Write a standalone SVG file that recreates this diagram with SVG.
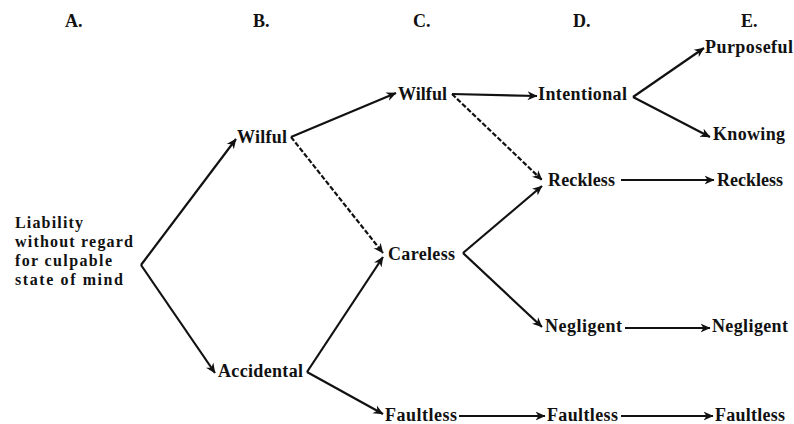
<svg xmlns="http://www.w3.org/2000/svg" width="794" height="424" viewBox="0 0 794 424">
<style>
text{font-family:"Liberation Serif","Times New Roman",serif;font-weight:bold;font-size:18px;fill:#111}
.s{font-size:16px}
.c{fill:none;stroke:#111;stroke-width:2.2;marker-end:url(#ah)}
.d{stroke-dasharray:5 2}
</style>
<defs>
<marker id="ah" viewBox="0 0 10 10" refX="9.5" refY="5" markerWidth="10" markerHeight="10" markerUnits="userSpaceOnUse" orient="auto">
<path d="M0,0.5 L10,5 L0,9.5 L3,5 z" fill="#111"/>
</marker>
</defs>
<g id="headers">
<text x="65" y="27">A.</text>
<text x="253" y="27">B.</text>
<text x="413" y="27">C.</text>
<text x="573" y="27">D.</text>
<text x="741" y="27">E.</text>
</g>
<g id="connectors">
<path class="c" d="M141,265 L236,139"/>
<path class="c" d="M141,265 L215,373"/>
<path class="c" d="M291,137 L396,93"/>
<path class="c d" d="M291,137 L383,253"/>
<path class="c" d="M307,372 L383,257"/>
<path class="c" d="M307,372 L383,414"/>
<path class="c" d="M452,94 L537,96"/>
<path class="c d" d="M452,94 L542,180"/>
<path class="c" d="M463,253 L542,186"/>
<path class="c" d="M463,253 L542,327"/>
<path class="c" d="M633,97 L704,48"/>
<path class="c" d="M633,97 L710,137"/>
<path class="c" d="M621,180 L714,180"/>
<path class="c" d="M625,328 L710,328"/>
<path class="c" d="M459,416 L545,416"/>
<path class="c" d="M621,416 L713,416"/>
</g>
<g id="nA">
<text class="s" x="15" y="228" textLength="68">Liability</text>
<text class="s" x="15" y="247" textLength="118">without regard</text>
<text class="s" x="15" y="266" textLength="97">for culpable</text>
<text class="s" x="15" y="285" textLength="108">state of mind</text>
</g>
<g id="nB-wilful"><text x="237" y="143" textLength="50">Wilful</text></g>
<g id="nB-accidental"><text x="218" y="377" textLength="85">Accidental</text></g>
<g id="nC-wilful"><text x="398" y="100" textLength="49">Wilful</text></g>
<g id="nC-careless"><text x="388" y="260" textLength="67">Careless</text></g>
<g id="nC-faultless"><text x="385" y="421" textLength="72">Faultless</text></g>
<g id="nD-intentional"><text x="538" y="100" textLength="89">Intentional</text></g>
<g id="nD-reckless"><text x="548" y="186" textLength="67">Reckless</text></g>
<g id="nD-negligent"><text x="545" y="332" textLength="77">Negligent</text></g>
<g id="nD-faultless"><text x="547" y="421" textLength="71">Faultless</text></g>
<g id="nE-purposeful"><text x="705" y="53" textLength="88">Purposeful</text></g>
<g id="nE-knowing"><text x="713" y="140" textLength="72">Knowing</text></g>
<g id="nE-reckless"><text x="717" y="186" textLength="66">Reckless</text></g>
<g id="nE-negligent"><text x="712" y="332" textLength="76">Negligent</text></g>
<g id="nE-faultless"><text x="715" y="421" textLength="70">Faultless</text></g>
</svg>
